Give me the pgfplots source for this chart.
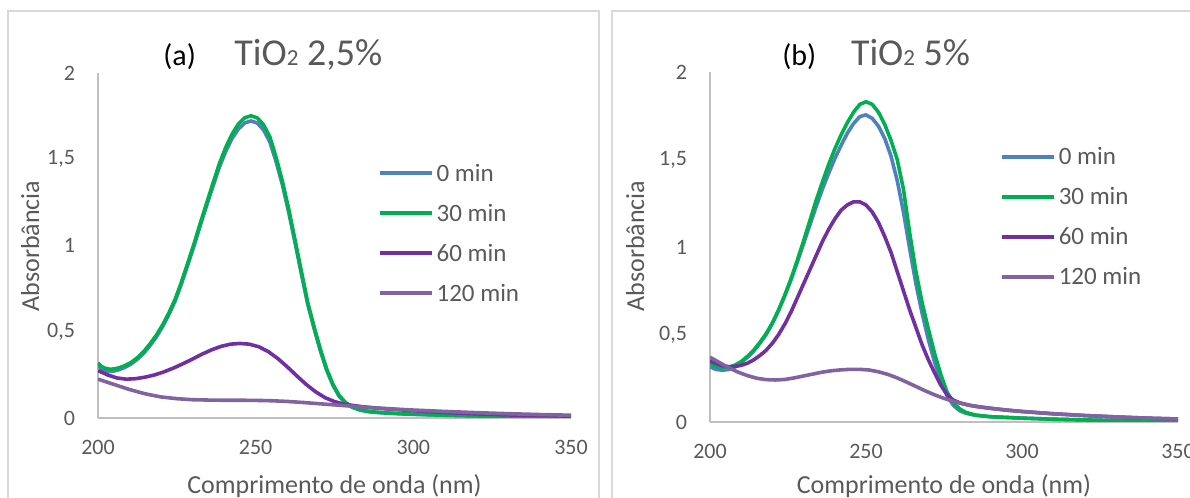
\documentclass[border=0pt]{standalone}
\usepackage{fontspec}
\setmainfont{Carlito}
\usepackage{pgfplots}
\pgfplotsset{compat=1.18}
\definecolor{c0}{HTML}{4F81BD}
\definecolor{c30}{HTML}{00B050}
\definecolor{c60}{HTML}{7030A0}
\definecolor{c120}{HTML}{8064A2}
\definecolor{txt}{HTML}{595959}
\definecolor{axl}{HTML}{BFBFBF}
\definecolor{frm}{HTML}{D9D9D9}
\pgfplotsset{
  myax/.style={
    scale only axis,
    xmin=200,xmax=350,ymin=0,ymax=2,
    axis x line*=bottom, axis y line*=left,
    axis line style={draw=axl, line width=0.6pt},
    major tick length=0pt,
    xtick={200,250,300,350}, xticklabels={200,250,300,350},
    ytick={0,0.5,1,1.5,2}, yticklabels={{0},{0,5},{1},{1,5},{2}},
    tick label style={font=\fontsize{11}{13}\selectfont, text=txt, inner sep=0pt, outer sep=0pt},
    xticklabel style={anchor=north, yshift=-11pt},
    yticklabel style={anchor=east, xshift=-11.5pt},
    every axis plot/.append style={line width=1.8pt, line join=round, no marks},
    legend style={draw=none, fill=none, font=\fontsize{12.5}{14}\selectfont, text=txt,
      inner sep=0pt, outer sep=0pt, anchor=west, row sep=11pt, column sep=1.5pt,
      nodes={inner sep=0pt, text height=9pt, text depth=0pt}},
    legend cell align=left,
    legend image code/.code={\draw[#1] (0pt,-0.5pt) -- (26pt,-0.5pt);},
  }
}
\begin{document}
\begin{tikzpicture}
\useasboundingbox (0,0) rectangle (595pt,249pt);
\clip (0,0) rectangle (595pt,249pt);
\draw[frm, line width=0.6pt] (4pt,-10pt) rectangle (299.5pt,243.5pt);
\draw[frm, line width=0.6pt] (306pt,-10pt) rectangle (620pt,243.5pt);
% ---------- panel (a)
\begin{axis}[myax, at={(49pt,40pt)}, width=236.5pt, height=172.5pt,
  legend style={at={(axis description cs:0.592,0.539)}}]
\addplot[c0] table {
200 0.305
201 0.288
202 0.277
203.5 0.27
205 0.272
206.5 0.279
208.5 0.293
210.5 0.313
212.5 0.341
214.5 0.376
216.5 0.42
218.5 0.47
220.5 0.53
222.5 0.6
224.5 0.68
226.5 0.78
228.5 0.89
230.5 1.0
232.5 1.12
234.5 1.235
236.5 1.345
238.5 1.455
240.5 1.545
242.5 1.62
244.5 1.675
246.5 1.71
248.5 1.722
250.5 1.71
252.5 1.67
254.5 1.60
256.5 1.485
258.5 1.35
260.5 1.19
262.5 1.015
264.5 0.835
266.5 0.66
268.5 0.52
270.5 0.39
272.5 0.278
274.5 0.19
276.5 0.125
278.5 0.087
280.5 0.063
283 0.046
286 0.036
290 0.03
295 0.025
300 0.021
310 0.016
320 0.012
330 0.009
340 0.006
350 0.004
};
\addlegendentry{0 min}
\addplot[c30] table {
200 0.32
201 0.30
202 0.29
203.5 0.283
205 0.284
206.5 0.29
208.5 0.303
210.5 0.322
212.5 0.35
214.5 0.385
216.5 0.43
218.5 0.48
220.5 0.54
222.5 0.61
224.5 0.69
226.5 0.79
228.5 0.9
230.5 1.013
232.5 1.133
234.5 1.248
236.5 1.363
238.5 1.475
240.5 1.568
242.5 1.645
244.5 1.704
246.5 1.74
248.5 1.752
250.5 1.74
252.5 1.70
254.5 1.63
256.5 1.51
258.5 1.37
260.5 1.21
262.5 1.03
264.5 0.85
266.5 0.67
268.5 0.53
270.5 0.40
272.5 0.285
274.5 0.195
276.5 0.13
278.5 0.09
280.5 0.065
283 0.048
286 0.038
290 0.031
295 0.026
300 0.022
310 0.016
320 0.012
330 0.009
340 0.006
350 0.004
};
\addlegendentry{30 min}
\addplot[c60] table {
200 0.275
203 0.25
206 0.232
209 0.225
212 0.228
215 0.237
218 0.25
221 0.268
224 0.29
227 0.315
230 0.342
233 0.37
236 0.395
239 0.415
242 0.428
245 0.432
248 0.428
251 0.413
254 0.385
257 0.345
260 0.297
263 0.245
266 0.195
269 0.152
272 0.118
275 0.095
278 0.08
281 0.072
285 0.063
290 0.055
300 0.042
310 0.032
320 0.024
330 0.018
340 0.014
350 0.011
};
\addlegendentry{60 min}
\addplot[c120] table {
200 0.225
205 0.195
210 0.165
215 0.14
220 0.122
225 0.112
230 0.106
235 0.104
240 0.103
245 0.103
250 0.102
255 0.1
260 0.096
265 0.09
270 0.083
275 0.076
280 0.069
285 0.062
290 0.056
300 0.046
310 0.038
320 0.031
330 0.025
340 0.02
350 0.016
};
\addlegendentry{120 min}
\end{axis}
% ---------- panel (b)
\begin{axis}[myax, at={(355pt,38pt)}, width=234pt, height=175pt,
  legend style={at={(axis description cs:0.62,0.589)}}]
\addplot[c0] table {
200 0.315
202 0.3
204 0.296
206 0.3
208 0.315
210 0.34
212 0.37
214 0.405
216 0.45
218 0.5
220 0.565
222 0.64
224 0.725
226 0.815
228 0.915
230 1.02
232 1.125
234 1.23
236 1.33
238 1.42
240 1.505
242 1.58
244 1.65
246 1.705
248 1.745
250 1.755
252 1.735
254 1.69
256 1.62
258 1.52
260 1.38
262 1.2
264 0.99
266 0.79
268 0.62
270 0.47
272 0.34
274 0.235
276 0.15
278 0.095
280 0.065
282 0.05
285 0.038
290 0.03
300 0.022
310 0.016
320 0.012
330 0.008
340 0.006
350 0.004
};
\addlegendentry{0 min}
\addplot[c30] table {
200 0.335
202 0.318
204 0.31
206 0.313
208 0.325
210 0.345
212 0.375
214 0.41
216 0.455
218 0.505
220 0.565
222 0.64
224 0.725
226 0.82
228 0.925
230 1.035
232 1.15
234 1.265
236 1.37
238 1.47
240 1.56
242 1.64
244 1.71
246 1.77
248 1.815
250 1.83
252 1.815
254 1.77
256 1.7
258 1.61
260 1.5
262 1.33
264 1.08
266 0.86
268 0.68
270 0.53
272 0.39
274 0.27
276 0.17
278 0.11
280 0.075
282 0.055
285 0.04
290 0.03
300 0.022
310 0.016
320 0.012
330 0.008
340 0.006
350 0.004
};
\addlegendentry{30 min}
\addplot[c60] table {
200 0.35
202 0.335
204 0.322
206 0.316
208 0.317
210 0.324
212 0.336
214 0.355
216 0.38
218 0.41
220 0.45
222 0.5
224 0.56
226 0.63
228 0.71
230 0.79
232 0.87
234 0.95
236 1.03
238 1.1
240 1.16
242 1.21
244 1.24
246 1.258
248 1.258
250 1.24
252 1.2
254 1.14
256 1.06
258 0.97
260 0.86
262 0.75
264 0.64
266 0.54
268 0.44
270 0.355
272 0.28
274 0.21
276 0.155
278 0.125
280 0.11
283 0.096
286 0.087
290 0.078
295 0.068
300 0.06
310 0.047
320 0.037
330 0.029
340 0.022
350 0.017
};
\addlegendentry{60 min}
\addplot[c120] table {
200 0.37
203 0.34
206 0.31
209 0.285
212 0.265
215 0.25
218 0.242
221 0.24
224 0.243
227 0.252
230 0.263
233 0.274
236 0.285
239 0.293
242 0.298
245 0.301
248 0.301
251 0.297
254 0.287
257 0.272
260 0.252
263 0.228
266 0.203
269 0.178
272 0.155
275 0.135
278 0.118
281 0.104
284 0.093
287 0.085
290 0.078
295 0.068
300 0.06
310 0.047
320 0.037
330 0.029
340 0.022
350 0.017
};
\addlegendentry{120 min}
\end{axis}
% ---------- titles and labels
\node[anchor=base west, inner sep=0pt, font=\fontsize{15}{18}\selectfont] at (81.5pt,216pt) {(a)};
\node[anchor=base west, inner sep=0pt, text=txt, font=\fontsize{19}{22}\selectfont] at (117pt,216pt) {TiO{\fontsize{11.5}{13}\selectfont 2} 2,5\%};
\node[anchor=base west, inner sep=0pt, font=\fontsize{15}{18}\selectfont] at (391pt,216pt) {(b)};
\node[anchor=base west, inner sep=0pt, text=txt, font=\fontsize{19}{22}\selectfont] at (425.3pt,216pt) {TiO{\fontsize{11.5}{13}\selectfont 2} 5\%};
\node[anchor=base, inner sep=0pt, text=txt, font=\fontsize{13}{15}\selectfont] at (167.25pt,2pt) {Comprimento de onda (nm)};
\node[anchor=base, inner sep=0pt, text=txt, font=\fontsize{13}{15}\selectfont] at (472pt,2pt) {Comprimento de onda (nm)};
\node[anchor=base, rotate=90, inner sep=0pt, text=txt, font=\fontsize{13}{15}\selectfont] at (19.5pt,126pt) {Absorbância};
\node[anchor=base, rotate=90, inner sep=0pt, text=txt, font=\fontsize{13}{15}\selectfont] at (322pt,126pt) {Absorbância};
\end{tikzpicture}
\end{document}
